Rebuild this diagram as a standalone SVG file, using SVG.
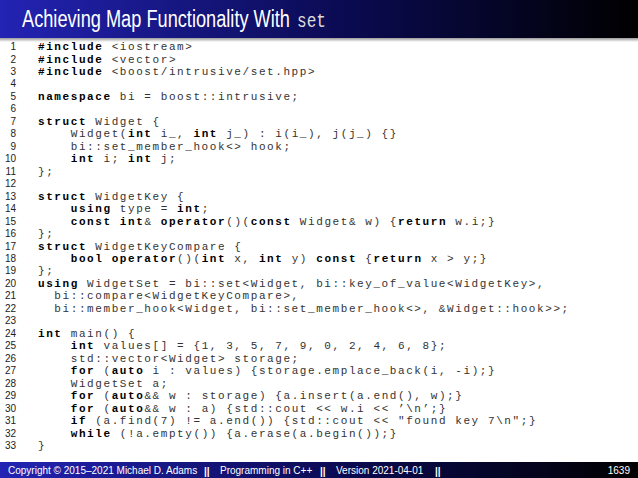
<svg xmlns="http://www.w3.org/2000/svg" width="638" height="478" viewBox="0 0 638 478">
<defs>
<linearGradient id="bar" x1="0" y1="0" x2="1" y2="0">
<stop offset="0" stop-color="#2323b4"/><stop offset="0.55" stop-color="#0a0a50"/><stop offset="1" stop-color="#000"/>
</linearGradient>
<linearGradient id="sh" x1="0" y1="0" x2="0" y2="1"><stop offset="0" stop-color="#999"/><stop offset="1" stop-color="#fff"/></linearGradient>
</defs>
<style>
.c{font-family:"Liberation Mono",monospace;font-size:11px;letter-spacing:1.58px;fill:#333;white-space:pre}
.k{font-weight:bold;fill:#000}
.n{font-family:"Liberation Sans",sans-serif;font-size:10px;fill:#222;text-anchor:end}
.f{font-family:"Liberation Sans",sans-serif;font-size:10px;fill:#fff}
</style>
<rect width="638" height="478" fill="#fff"/>
<g id="title">
<rect x="0" y="0" width="638" height="38" fill="url(#bar)"/>
<rect x="0" y="38" width="638" height="4" fill="url(#sh)"/>
<text x="22" y="27" font-family="Liberation Sans,sans-serif" font-size="23" fill="#fff" textLength="268" lengthAdjust="spacingAndGlyphs">Achieving Map Functionality With</text>
<text x="297" y="27" font-family="Liberation Mono,monospace" font-size="20" fill="#ddd" textLength="29" lengthAdjust="spacingAndGlyphs">set</text>
</g>
<g id="linenums">
<text class="n" x="16" y="50">1</text><text class="n" x="16" y="62.5">2</text><text class="n" x="16" y="75">3</text><text class="n" x="16" y="87.4">4</text><text class="n" x="16" y="99.9">5</text><text class="n" x="16" y="112.4">6</text><text class="n" x="16" y="124.8">7</text><text class="n" x="16" y="137.3">8</text><text class="n" x="16" y="149.8">9</text><text class="n" x="16" y="162.2">10</text><text class="n" x="16" y="174.7">11</text><text class="n" x="16" y="187.2">12</text><text class="n" x="16" y="199.6">13</text><text class="n" x="16" y="212.1">14</text><text class="n" x="16" y="224.6">15</text><text class="n" x="16" y="237">16</text><text class="n" x="16" y="249.5">17</text><text class="n" x="16" y="262">18</text><text class="n" x="16" y="274.4">19</text><text class="n" x="16" y="286.9">20</text><text class="n" x="16" y="299.4">21</text><text class="n" x="16" y="311.8">22</text><text class="n" x="16" y="324.3">23</text><text class="n" x="16" y="336.8">24</text><text class="n" x="16" y="349.2">25</text><text class="n" x="16" y="361.7">26</text><text class="n" x="16" y="374.2">27</text><text class="n" x="16" y="386.6">28</text><text class="n" x="16" y="399.1">29</text><text class="n" x="16" y="411.6">30</text><text class="n" x="16" y="424">31</text><text class="n" x="16" y="436.5">32</text><text class="n" x="16" y="449">33</text>
</g>
<g id="code">
<text class="c" x="38" y="50"><tspan class="k">#include</tspan> &lt;iostream&gt;</text>
<text class="c" x="38" y="62.5"><tspan class="k">#include</tspan> &lt;vector&gt;</text>
<text class="c" x="38" y="75"><tspan class="k">#include</tspan> &lt;boost/intrusive/set.hpp&gt;</text>
<text class="c" x="38" y="99.9"><tspan class="k">namespace</tspan> bi = boost::intrusive;</text>
<text class="c" x="38" y="124.8"><tspan class="k">struct</tspan> Widget {</text>
<text class="c" x="38" y="137.3">    Widget(<tspan class="k">int</tspan> i_, <tspan class="k">int</tspan> j_) : i(i_), j(j_) {}</text>
<text class="c" x="38" y="149.8">    bi::set_member_hook&lt;&gt; hook;</text>
<text class="c" x="38" y="162.2">    <tspan class="k">int</tspan> i; <tspan class="k">int</tspan> j;</text>
<text class="c" x="38" y="174.7">};</text>
<text class="c" x="38" y="199.6"><tspan class="k">struct</tspan> WidgetKey {</text>
<text class="c" x="38" y="212.1">    <tspan class="k">using</tspan> type = <tspan class="k">int</tspan>;</text>
<text class="c" x="38" y="224.6">    <tspan class="k">const int</tspan>&amp; <tspan class="k">operator</tspan>()(<tspan class="k">const</tspan> Widget&amp; w) {<tspan class="k">return</tspan> w.i;}</text>
<text class="c" x="38" y="237">};</text>
<text class="c" x="38" y="249.5"><tspan class="k">struct</tspan> WidgetKeyCompare {</text>
<text class="c" x="38" y="262">    <tspan class="k">bool operator</tspan>()(<tspan class="k">int</tspan> x, <tspan class="k">int</tspan> y) <tspan class="k">const</tspan> {<tspan class="k">return</tspan> x &gt; y;}</text>
<text class="c" x="38" y="274.4">};</text>
<text class="c" x="38" y="286.9"><tspan class="k">using</tspan> WidgetSet = bi::set&lt;Widget, bi::key_of_value&lt;WidgetKey&gt;,</text>
<text class="c" x="38" y="299.4">  bi::compare&lt;WidgetKeyCompare&gt;,</text>
<text class="c" x="38" y="311.8">  bi::member_hook&lt;Widget, bi::set_member_hook&lt;&gt;, &amp;Widget::hook&gt;&gt;;</text>
<text class="c" x="38" y="336.8"><tspan class="k">int</tspan> main() {</text>
<text class="c" x="38" y="349.2">    <tspan class="k">int</tspan> values[] = {1, 3, 5, 7, 9, 0, 2, 4, 6, 8};</text>
<text class="c" x="38" y="361.7">    std::vector&lt;Widget&gt; storage;</text>
<text class="c" x="38" y="374.2">    <tspan class="k">for</tspan> (<tspan class="k">auto</tspan> i : values) {storage.emplace_back(i, -i);}</text>
<text class="c" x="38" y="386.6">    WidgetSet a;</text>
<text class="c" x="38" y="399.1">    <tspan class="k">for</tspan> (<tspan class="k">auto</tspan>&amp;&amp; w : storage) {a.insert(a.end(), w);}</text>
<text class="c" x="38" y="411.6">    <tspan class="k">for</tspan> (<tspan class="k">auto</tspan>&amp;&amp; w : a) {std::cout &lt;&lt; w.i &lt;&lt; ’\n’;}</text>
<text class="c" x="38" y="424">    <tspan class="k">if</tspan> (a.find(7) != a.end()) {std::cout &lt;&lt; "found key 7\n";}</text>
<text class="c" x="38" y="436.5">    <tspan class="k">while</tspan> (!a.empty()) {a.erase(a.begin());}</text>
<text class="c" x="38" y="449">}</text>
</g>
<g id="footer">
<rect x="0" y="462" width="638" height="16" fill="url(#bar)"/>
<text class="f" x="8" y="474">Copyright © 2015–2021 Michael D. Adams</text>
<text class="f" x="204" y="474.5" font-weight="bold" font-size="13">||</text>
<text class="f" x="220" y="474">Programming in C++</text>
<text class="f" x="320" y="474.5" font-weight="bold" font-size="13">||</text>
<text class="f" x="336" y="474">Version 2021-04-01</text>
<text class="f" x="435" y="474.5" font-weight="bold" font-size="13">||</text>
<text class="f" x="630" y="474" text-anchor="end">1639</text>
</g>
</svg>
